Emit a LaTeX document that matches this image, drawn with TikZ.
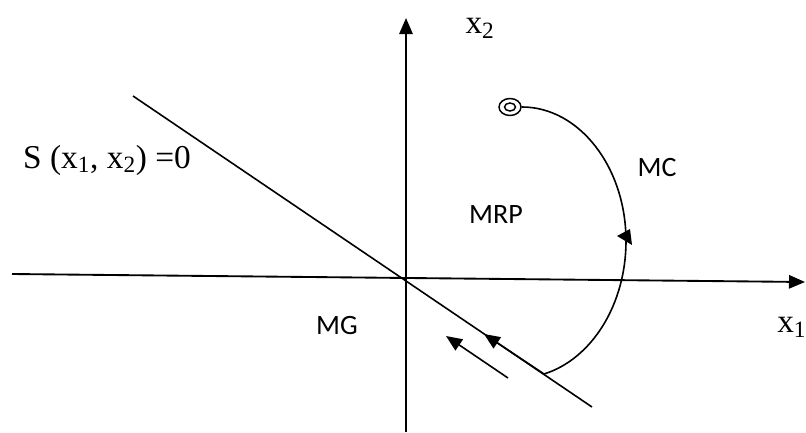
\documentclass[tikz,border=0pt]{standalone}
\usepackage{fontspec}
\setmainfont{Liberation Serif}
\newfontfamily\calib{Carlito}
\usetikzlibrary{arrows.meta}
\tikzset{
  axis/.style={line width=1.4pt,-{Triangle[length=12pt,width=10pt]}},
  thin line/.style={line width=1.2pt},
  flow/.style={line width=1.2pt,-{Triangle[length=12pt,width=10pt]}},
  serif label/.style={font=\fontsize{25}{28}\selectfont,inner sep=0pt},
  sans label/.style={font=\calib\fontsize{21}{24}\selectfont,inner sep=0pt}
}
\newcommand{\sub}[1]{\textsubscript{#1}}
\begin{document}
\begin{tikzpicture}[x=0.75pt,y=-0.75pt]
\path[use as bounding box] (0,0) rectangle (806,432);
% axes
\coordinate (hl) at (12,274);
\coordinate (hr) at (805,282);
\coordinate (vb) at (406,432);
\coordinate (vt) at (406,18);
\draw[axis] (hl) -- (hr);
\draw[axis] (vb) -- (vt);
% sliding line
\coordinate (d1) at (133,96);
\coordinate (d2) at (592,407);
\draw[thin line] (d1) -- (d2);
% initial point
\coordinate (p0) at (510,107);
\draw[line width=1.1pt] (p0) ellipse [x radius=11, y radius=8.5];
\draw[line width=1.1pt] (p0) ellipse [x radius=5.5, y radius=4];
% reaching trajectory
\coordinate (c0) at (522,107);
\coordinate (c1) at (626,241);
\coordinate (c2) at (544,374);
\draw[thin line] (c0) .. controls (579,107) and (626,167) .. (c1)
                      .. controls (626,304) and (592,359) .. (c2);
\fill (617,236) -- (630,229) -- (632,245) -- cycle;
% arrows along the sliding line
\coordinate (a1s) at (508,378);
\coordinate (a1e) at (446,336);
\draw[flow] (a1s) -- (a1e);
\coordinate (a2e) at (484,334);
\draw[flow] (c2) -- (a2e);
% labels
\node[serif label] (lx2) at (480,28) {x\sub{2}};
\node[serif label,anchor=west] (lx1) at (777,327) {x\sub{1}};
\node[serif label] (ls) at (107,160) {S (x\sub{1}, x\sub{2}) =0};
\node[sans label] (lmrp) at (496,215) {MRP};
\node[sans label] (lmc) at (657,168) {MC};
\node[sans label] (lmg) at (337,326) {MG};
\end{tikzpicture}
\end{document}
